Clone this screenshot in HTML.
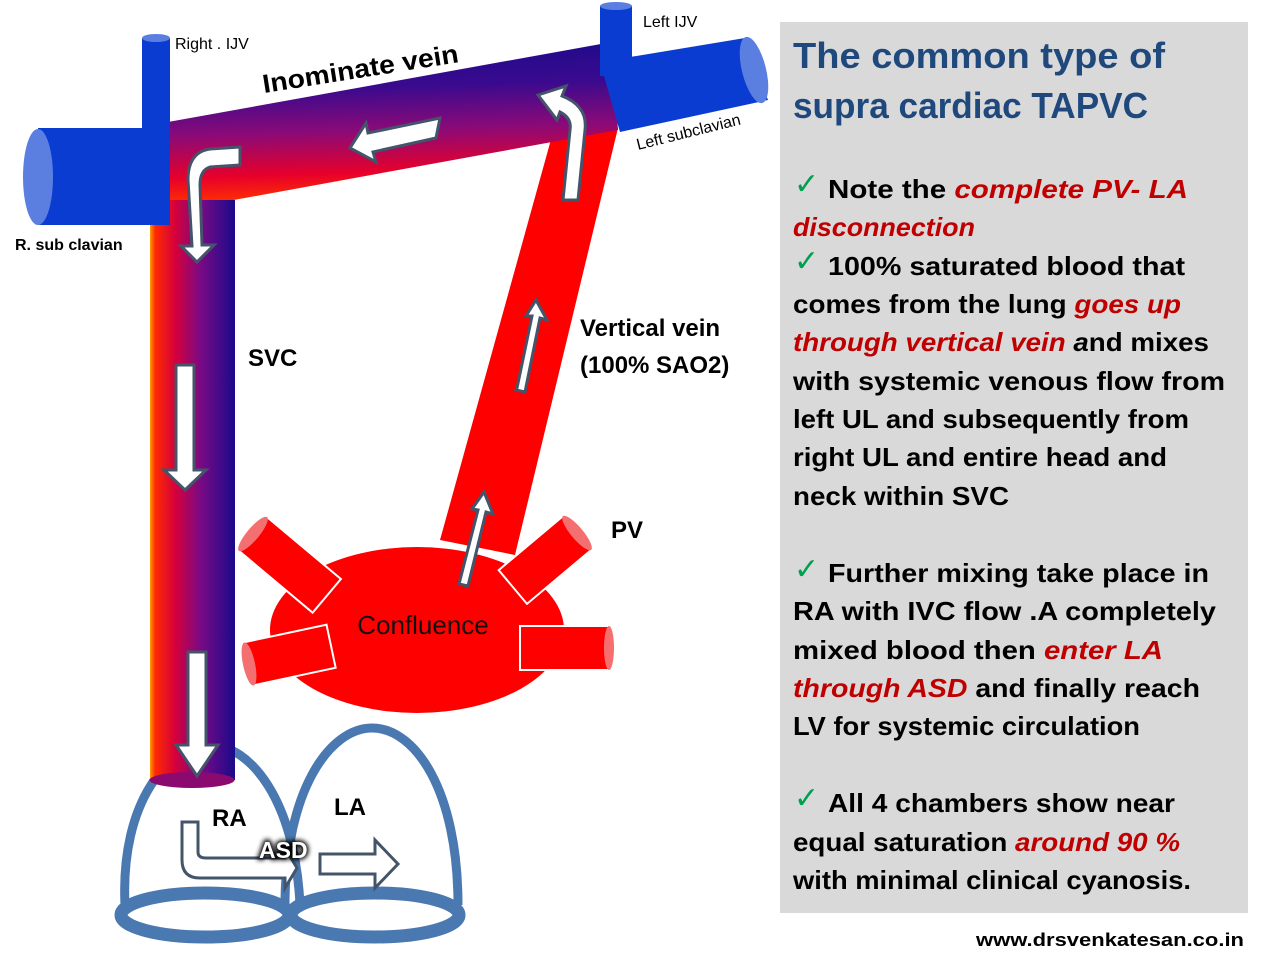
<!DOCTYPE html>
<html><head><meta charset="utf-8"><style>
html,body{margin:0;padding:0;background:#fff;}
svg{display:block;}
</style></head><body>
<svg width="1282" height="962" viewBox="0 0 1282 962" xmlns="http://www.w3.org/2000/svg">
<defs>
<linearGradient id="gInom" x1="0" y1="0" x2="0.08" y2="1">
<stop offset="0" stop-color="#1a0a8a"/><stop offset="0.3" stop-color="#3a0a8e"/><stop offset="0.55" stop-color="#8a0a78"/><stop offset="0.8" stop-color="#e8002a"/><stop offset="0.95" stop-color="#ff3000"/><stop offset="1" stop-color="#ff9a00"/>
</linearGradient>
<linearGradient id="gSvc" x1="0" y1="0" x2="1" y2="0">
<stop offset="0" stop-color="#ff9a00"/><stop offset="0.06" stop-color="#ff2a00"/><stop offset="0.3" stop-color="#d4003c"/><stop offset="0.6" stop-color="#780a86"/><stop offset="1" stop-color="#1a0a8a"/>
</linearGradient>
<filter id="glow" x="-30%" y="-50%" width="160%" height="200%"><feGaussianBlur stdDeviation="2.5"/></filter>
</defs>

<!-- vertical vein -->
<polygon points="555,125 618,128 515,555 440,540" fill="#ff0000"/>

<!-- innominate vein -->
<polygon points="168,122 612,42 618,130 168,212" fill="url(#gInom)"/>

<!-- SVC -->
<rect x="150" y="200" width="85" height="580" fill="url(#gSvc)"/>

<!-- right subclavian & IJV -->
<rect x="142" y="38" width="28" height="100" fill="#0a3cd2"/>
<ellipse cx="156" cy="38" rx="14" ry="4" fill="#5b7fe0"/>
<rect x="38" y="128" width="132" height="97" fill="#0a3cd2"/>
<ellipse cx="38" cy="177" rx="15" ry="48" fill="#5b7fe0"/>

<!-- left IJV & subclavian -->
<polygon points="600,62 745,38 768,100 620,132" fill="#0a3cd2"/>
<rect x="600" y="6" width="32" height="70" fill="#0a3cd2"/>
<ellipse cx="616" cy="6" rx="16" ry="4" fill="#5b7fe0"/>
<ellipse cx="754" cy="70" rx="12" ry="34" fill="#5b7fe0" transform="rotate(-14 754 70)"/>

<!-- PV stubs -->
<g fill="#ff0000" stroke="#fff" stroke-width="2">
<g transform="translate(290,565) rotate(40)"><rect x="-48" y="-22" width="96" height="44"/></g>
<g transform="translate(290,655) rotate(-12)"><rect x="-42" y="-22" width="84" height="44"/></g>
<g transform="translate(545,560) rotate(-40)"><rect x="-42" y="-22" width="84" height="44"/></g>
<g transform="translate(565,648)"><rect x="-45" y="-22" width="90" height="44"/></g>
</g>
<ellipse cx="417" cy="630" rx="147" ry="83" fill="#ff0000"/>
<g fill="#ff0000" stroke="#fff" stroke-width="2">
<g transform="translate(290,565) rotate(40)"><rect x="-48" y="-22" width="96" height="44"/></g>
<g transform="translate(290,655) rotate(-12)"><rect x="-42" y="-22" width="84" height="44"/></g>
<g transform="translate(545,560) rotate(-40)"><rect x="-42" y="-22" width="84" height="44"/></g>
<g transform="translate(565,648)"><rect x="-45" y="-22" width="90" height="44"/></g>
</g>
<g fill="#f47070">
<ellipse cx="253" cy="534" rx="6" ry="22" transform="rotate(40 253 534)"/>
<ellipse cx="249" cy="664" rx="6" ry="22" transform="rotate(-12 249 664)"/>
<ellipse cx="577" cy="533" rx="6" ry="22" transform="rotate(-40 577 533)"/>
<ellipse cx="609" cy="648" rx="5" ry="22"/>
</g>
<path d="M440,542 Q478,548 512,556" stroke="#fff" stroke-width="2" fill="none"/>
<text x="423" y="634" font-family="Liberation Sans, sans-serif" font-size="26" text-anchor="middle" fill="#111">Confluence</text>

<!-- heart -->
<g fill="none" stroke="#4a78b0" stroke-width="9">
<path d="M125,905 C120,800 170,745 210,745 C250,745 295,800 300,905"/>
<path d="M285,905 C285,790 330,728 372,728 C415,728 458,790 458,905"/>
<ellipse cx="205" cy="915" rx="84" ry="22" stroke-width="13"/>
<ellipse cx="375" cy="915" rx="84" ry="22" stroke-width="13"/>
</g>
<rect x="150" y="700" width="85" height="80" fill="url(#gSvc)"/>
<ellipse cx="192" cy="780" rx="42.5" ry="8" fill="#8a0a70"/>

<!-- arrows -->
<g fill="#fff" stroke="#44546a" stroke-width="3" stroke-linejoin="miter">
<polygon points="176,365 194,365 194,470 206,470 185,490 164,470 176,470"/>
<polygon points="188,652 206,652 206,745 218,745 197,776 176,745 188,745"/>
<polygon points="516,390 525,392 540,318 547,320 536,300 526,316 532,316 517,388"/>
<polygon points="459,584 468,586 486,512 493,514 484,492 472,509 478,510"/>
<polygon points="440,118 436,138 373,152 376,162 350,148 366,123 368,133"/>
<path d="M240,147 L240,165 L210,167 Q200,170 200,185 L202,245 L214,245 L197,262 L181,246 L192,246 L188,180 Q188,152 210,149 Z"/>
<path d="M578,200 L563,200 L570,130 Q572,118 560,112 L557,120 L538,95 L566,86 L562,96 Q588,106 585,130 Z"/>
<path d="M182,822 L198,822 L198,852 Q198,858 206,858 L285,858 L285,848 L297,868 L285,888 L285,878 L200,878 Q182,878 182,860 Z"/>
<polygon points="320,854 375,854 375,840 398,864 375,888 375,874 320,874"/>
</g>

<!-- labels -->
<g font-family="Liberation Sans, sans-serif" fill="#000">
<text x="175" y="49" font-size="16">Right . IJV</text>
<text x="643" y="27" font-size="16">Left IJV</text>
<text x="15" y="250" font-size="16" font-weight="bold">R. sub clavian</text>
<text x="638" y="150" font-size="16" transform="rotate(-14 638 150)">Left subclavian</text>
<text x="264" y="93" font-size="26" font-weight="bold" textLength="198" lengthAdjust="spacingAndGlyphs" transform="rotate(-9 264 93)">Inominate vein</text>
<text x="248" y="366" font-size="24" font-weight="bold">SVC</text>
<text x="580" y="336" font-size="24" font-weight="bold">Vertical vein</text>
<text x="580" y="373" font-size="24" font-weight="bold">(100% SAO2)</text>
<text x="611" y="538" font-size="24" font-weight="bold">PV</text>
<text x="212" y="826" font-size="24" font-weight="bold">RA</text>
<text x="334" y="815" font-size="24" font-weight="bold">LA</text>
<text x="259" y="858" font-size="23" font-weight="bold" fill="#000" stroke="#000" stroke-width="4" filter="url(#glow)">ASD</text>
<text x="259" y="858" font-size="23" font-weight="bold" fill="#fff">ASD</text>
</g>

<!-- right panel -->
<rect x="780" y="22" width="468" height="891" fill="#d9d9d9"/>
<g font-family="Liberation Sans, sans-serif" font-weight="bold">
<text x="793" y="68" font-size="36" fill="#1f497d" textLength="372" lengthAdjust="spacingAndGlyphs">The  common type of</text>
<text x="793" y="118" font-size="36" fill="#1f497d" textLength="355" lengthAdjust="spacingAndGlyphs">supra cardiac TAPVC</text>
<g font-size="26" fill="#000">
<g fill="#00a050" font-weight="normal" font-size="30"><text x="794" y="194">✓</text><text x="794" y="271">✓</text><text x="794" y="579">✓</text><text x="794" y="808">✓</text></g>
<text x="828" y="198" textLength="360" lengthAdjust="spacingAndGlyphs">Note the   <tspan fill="#c00000" font-style="italic">complete  PV- LA</tspan></text>
<text x="793" y="236" textLength="182" lengthAdjust="spacingAndGlyphs" fill="#c00000" font-style="italic">disconnection</text>
<text x="828" y="275" textLength="357" lengthAdjust="spacingAndGlyphs">100% saturated blood  that</text>
<text x="793" y="313" textLength="388" lengthAdjust="spacingAndGlyphs">comes from the lung  <tspan fill="#c00000" font-style="italic">goes up</tspan></text>
<text x="793" y="351" textLength="416" lengthAdjust="spacingAndGlyphs"><tspan fill="#c00000" font-style="italic">through vertical vein </tspan><tspan font-style="italic">a</tspan>nd mixes</text>
<text x="793" y="390" textLength="432" lengthAdjust="spacingAndGlyphs">with  systemic venous flow  from</text>
<text x="793" y="428" textLength="396" lengthAdjust="spacingAndGlyphs">left UL and subsequently from</text>
<text x="793" y="466" textLength="374" lengthAdjust="spacingAndGlyphs">right UL and entire head and</text>
<text x="793" y="505" textLength="216" lengthAdjust="spacingAndGlyphs">neck  within SVC</text>
<text x="828" y="582" textLength="381" lengthAdjust="spacingAndGlyphs">Further mixing  take  place in</text>
<text x="793" y="620" textLength="423" lengthAdjust="spacingAndGlyphs">RA  with IVC  flow .A completely</text>
<text x="793" y="659" textLength="370" lengthAdjust="spacingAndGlyphs">mixed  blood  then <tspan fill="#c00000" font-style="italic">enter  LA</tspan></text>
<text x="793" y="697" textLength="407" lengthAdjust="spacingAndGlyphs"><tspan fill="#c00000" font-style="italic">through ASD </tspan> and  finally reach</text>
<text x="793" y="735" textLength="347" lengthAdjust="spacingAndGlyphs">LV  for systemic circulation</text>
<text x="828" y="812" textLength="347" lengthAdjust="spacingAndGlyphs">All 4 chambers show  near</text>
<text x="793" y="851" textLength="387" lengthAdjust="spacingAndGlyphs">equal saturation <tspan fill="#c00000" font-style="italic">around 90 %</tspan></text>
<text x="793" y="889" textLength="398" lengthAdjust="spacingAndGlyphs">with minimal clinical cyanosis.</text>
</g>
<text x="976" y="946" font-size="18" fill="#000" textLength="268" lengthAdjust="spacingAndGlyphs">www.drsvenkatesan.co.in</text>
</g>
</svg>
</body></html>
